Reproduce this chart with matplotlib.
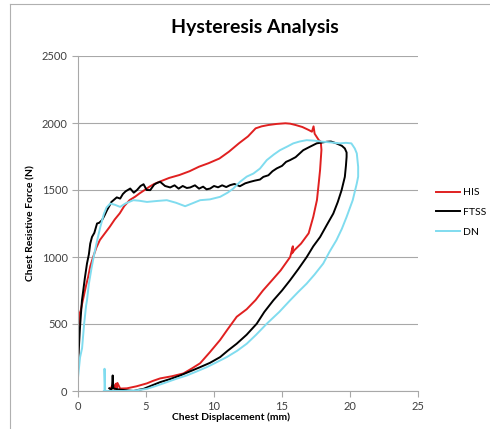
import matplotlib
matplotlib.use("Agg")
import matplotlib.pyplot as plt

plt.rcParams['font.family'] = ['Lato', 'DejaVu Sans']

# HIS (red) loop
his_x = [0, 0.02, 0.05, 0.08, 0.12, 0.2, 0.3, 0.45, 0.6, 0.75, 0.9, 1.12, 1.35, 1.61, 2.0, 2.34, 2.7,
         3.07, 3.4, 3.8, 4.2, 4.53, 4.9, 5.26, 5.6, 6.0, 6.7, 7.46, 8.2, 8.9, 9.6, 10.4, 11.1, 11.84,
         12.5, 13.06, 13.5, 14.0, 14.6, 15.25, 15.6, 16.0, 16.5, 16.96, 17.2, 17.32, 17.4, 17.7,
         17.85, 17.9, 17.8, 17.7, 17.57, 17.3, 16.96, 16.4, 15.9, 15.74, 15.8, 15.6, 14.9, 14.28,
         13.6, 13.06, 12.4, 11.67, 11.0, 10.45, 9.7, 8.98, 8.4, 7.75, 6.9, 6.04, 5.5, 5.07, 4.3,
         3.6, 3.1, 2.9, 2.85, 2.8, 2.7, 2.6, 2.55, 2.5, 2.45, 2.4, 2.35]
his_y = [200, 350, 570, 500, 580, 600, 650, 720, 790, 853, 930, 1002, 1070, 1127, 1180, 1226, 1280,
         1326, 1380, 1425, 1450, 1475, 1500, 1525, 1545, 1562, 1590, 1612, 1640, 1674, 1700, 1735,
         1786, 1849, 1900, 1960, 1975, 1985, 1993, 1998, 1995, 1985, 1970, 1948, 1935, 1975, 1920,
         1873, 1860, 1800, 1650, 1550, 1425, 1300, 1177, 1100, 1050, 1027, 1080, 1000, 900, 828,
         750, 679, 610, 554, 460, 381, 290, 207, 170, 131, 110, 94, 75, 57, 35, 20, 18, 60, 20, 55,
         15, 50, 20, 40, 15, 25, 20]

# FTSS (black) loop
ftss_x = [0, 0.03, 0.08, 0.15, 0.22, 0.29, 0.4, 0.5, 0.66, 0.8, 0.9, 1.03, 1.2, 1.4, 1.55, 1.76,
          1.95, 2.13, 2.3, 2.45, 2.61, 2.85, 3.1, 3.3, 3.5, 3.84, 4.1, 4.33, 4.6, 4.82, 5.05, 5.31,
          5.6, 5.8, 6.04, 6.4, 6.78, 7.1, 7.4, 7.7, 8.0, 8.25, 8.6, 8.9, 9.2, 9.45, 9.72, 10.0,
          10.3, 10.6, 10.9, 11.18, 11.5, 11.9, 12.3, 12.66, 13.0, 13.38, 13.63, 14.0, 14.3, 14.61,
          15.0, 15.3, 15.59, 16.0, 16.56, 17.0, 17.55, 18.28, 18.6, 19.0, 19.4, 19.62, 19.75,
          19.75, 19.7, 19.62, 19.38, 19.1, 18.77, 18.3, 17.8, 17.3, 16.82, 16.2, 15.59, 15.0,
          14.36, 13.7, 13.14, 12.4, 11.67, 11.0, 10.45, 9.7, 8.98, 8.2, 7.51, 6.8, 6.04, 5.4,
          4.82, 4.4, 4.1, 3.6, 3.1, 2.8, 2.6, 2.55, 2.5, 2.45, 2.3]
ftss_y = [180, 250, 350, 480, 580, 676, 760, 840, 951, 1020, 1100, 1150, 1180, 1250, 1255, 1274,
          1310, 1349, 1380, 1410, 1424, 1445, 1436, 1470, 1490, 1511, 1480, 1499, 1530, 1543, 1500,
          1499, 1540, 1552, 1561, 1530, 1519, 1535, 1510, 1530, 1515, 1519, 1535, 1510, 1525, 1505,
          1511, 1530, 1520, 1535, 1522, 1536, 1545, 1528, 1550, 1561, 1570, 1578, 1598, 1610, 1640,
          1661, 1680, 1710, 1723, 1745, 1797, 1820, 1848, 1860, 1862, 1848, 1830, 1810, 1780, 1747,
          1680, 1598, 1498, 1410, 1324, 1240, 1149, 1080, 1000, 910, 826, 750, 676, 590, 502, 420,
          353, 300, 253, 210, 178, 145, 116, 90, 66, 40, 16, 8, 0, 5, 10, 15, 20, 116, 25, 10, 20]

# DN (light blue) loop
dn_x = [0, 0.05, 0.15, 0.3, 0.45, 0.6, 0.66, 0.8, 1.0, 1.15, 1.4, 1.64, 1.9, 2.1, 2.37, 2.7, 3.1,
        3.5, 4.07, 4.5, 5.07, 5.8, 6.53, 7.2, 7.88, 8.4, 8.98, 9.7, 10.45, 11.0, 11.42, 11.9, 12.41,
        12.9, 13.38, 13.88, 14.4, 14.85, 15.4, 15.83, 16.3, 16.81, 17.4, 18.03, 18.6, 19.26, 19.7,
        20.1, 20.35, 20.5, 20.6, 20.6, 20.5, 20.2, 19.75, 19.4, 19.0, 18.5, 18.03, 17.4, 16.81,
        16.2, 15.59, 14.8, 13.88, 13.1, 12.41, 11.7, 10.94, 10.2, 9.47, 8.7, 8.0, 7.2, 6.53, 5.8,
        5.07, 4.3, 3.6, 2.8, 2.0, 1.95, 1.95, 1.9]
dn_y = [100, 150, 250, 320, 500, 640, 676, 800, 920, 1000, 1120, 1224, 1320, 1370, 1399, 1390,
        1374, 1400, 1424, 1420, 1411, 1418, 1424, 1405, 1379, 1400, 1424, 1430, 1449, 1480, 1511,
        1560, 1600, 1623, 1660, 1723, 1765, 1797, 1825, 1848, 1862, 1872, 1868, 1860, 1855, 1848,
        1852, 1848, 1810, 1773, 1673, 1600, 1549, 1424, 1299, 1210, 1125, 1040, 951, 870, 801,
        740, 676, 590, 502, 420, 353, 300, 253, 215, 178, 145, 116, 90, 66, 40, 16, 5, 0, 0, 0,
        166, 0, 0]

x_ticks = [0, 5, 10, 15, 20, 25]
y_ticks = [0, 500, 1000, 1500, 2000, 2500]

fig = plt.figure(figsize=(4.9, 4.29), dpi=100)
ax = fig.add_axes([78 / 490, 38 / 429, 340 / 490, 335 / 429])

ax.plot(his_x, his_y, color='#e02020', lw=1.4, label='HIS')
ax.plot(ftss_x, ftss_y, color='black', lw=1.4, label='FTSS')
ax.plot(dn_x, dn_y, color='#80dcef', lw=1.4, label='DN')

ax.set_xlim(0, 25)
ax.set_ylim(0, 2500)
ax.set_xticks(x_ticks)
ax.set_yticks(y_ticks)
ax.grid(axis='y', color='#a8a8a8', lw=0.8)
ax.set_axisbelow(True)
for s in ['top', 'right']:
    ax.spines[s].set_visible(False)
for s in ['left', 'bottom']:
    ax.spines[s].set_color('#a8a8a8')
    ax.spines[s].set_linewidth(0.8)
ax.tick_params(axis='both', colors='#a8a8a8', labelcolor='#404040', labelsize=8, length=4, width=0.8)

fig.text(255 / 490, 1 - 28 / 429, 'Hysteresis Analysis', fontsize=14, fontweight='bold',
         ha='center', va='center')
ax.set_xlabel('Chest Displacement (mm)', fontsize=7.5, fontweight='bold')
ax.set_ylabel('Chest Resistive Force (N)', fontsize=7.5, fontweight='bold')
ax.xaxis.set_label_coords(153 / 340, -0.065)
ax.yaxis.set_label_coords(-0.125, 0.5)

ax.legend(loc='upper left', bbox_to_anchor=(436 / 490, 1 - 188 / 429), bbox_transform=fig.transFigure,
          frameon=False, fontsize=7.5, handlelength=2.3, handletextpad=0.3, labelspacing=1.0,
          borderpad=0, borderaxespad=0)

# outer chart border
fig.add_artist(plt.Line2D([10 / 490, 10 / 490], [0, 1 - 4 / 429], transform=fig.transFigure,
                          color='#b0b0b0', lw=0.8))
fig.add_artist(plt.Line2D([10 / 490, 1], [1 - 4 / 429, 1 - 4 / 429], transform=fig.transFigure,
                          color='#b0b0b0', lw=0.8))

fig.savefig('out.png', dpi=100)
